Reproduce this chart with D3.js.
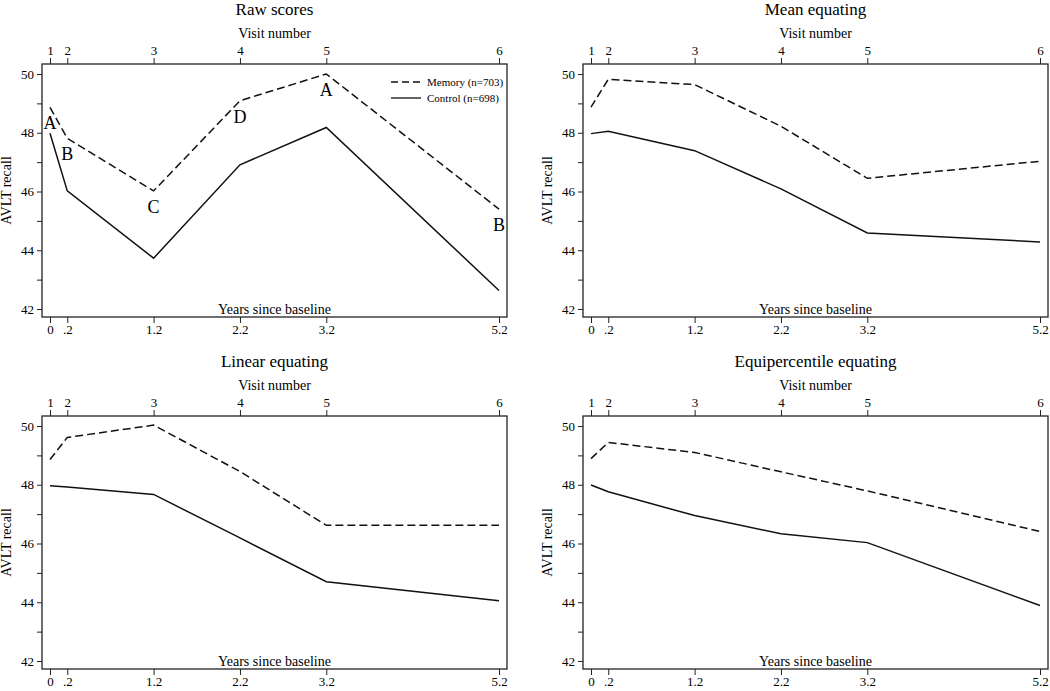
<!DOCTYPE html>
<html>
<head>
<meta charset="utf-8">
<script src="https://cdn.jsdelivr.net/npm/d3@7"></script>
<style>
  body { margin: 0; background: #fff; }
  svg text { font-family: 'Liberation Serif', 'Times New Roman', serif; fill: #000; }
</style>
</head>
<body>
<div id="chart"></div>
<script>
// time points and labels
const years = [0, 0.2, 1.2, 2.2, 3.2, 5.2];
const yearLabels = ['0', '.2', '1.2', '2.2', '3.2', '5.2'];
const visitLabels = ['1', '2', '3', '4', '5', '6'];
const yTicks = [42, 44, 46, 48, 50];
const yMinor = [43, 45, 47, 49];

const panelTitles = ['Raw scores', 'Mean equating', 'Linear equating', 'Equipercentile equating'];

// AVLT recall
const rawMemory = [48.86, 47.81, 46.02, 49.09, 50.0, 45.4];
const rawControl = [47.98, 46.02, 43.73, 46.91, 48.18, 42.63];
const meanMemory = [48.87, 49.82, 49.64, 48.22, 46.45, 47.03];
const meanControl = [47.97, 48.05, 47.39, 46.09, 44.59, 44.28];
const linearMemory = [48.86, 49.61, 50.03, 48.45, 46.62, 46.62];
const linearControl = [47.97, 47.92, 47.67, 46.19, 44.70, 44.05];
const equiMemory = [48.89, 49.44, 49.10, 48.44, 47.79, 46.41];
const equiControl = [47.99, 47.76, 46.95, 46.33, 46.03, 43.89];

// letters on the raw memory points
const rawPointLabels = ['A', 'B', 'C', 'D', 'A', 'B'];

const legendLabels = ['Memory (n=703)', 'Control (n=698)'];

const width = 1050;
const height = 691;

const svg = d3.select('#chart')
  .append('svg')
  .attr('width', width)
  .attr('height', height);

const panels = [
  { title: panelTitles[0], memory: rawMemory, control: rawControl, left: 42, top: 64, labels: rawPointLabels, legend: true },
  { title: panelTitles[1], memory: meanMemory, control: meanControl, left: 583, top: 64 },
  { title: panelTitles[2], memory: linearMemory, control: linearControl, left: 42, top: 416 },
  { title: panelTitles[3], memory: equiMemory, control: equiControl, left: 583, top: 416 },
];

const frameW = 465;
const frameH = 253;

panels.forEach((p) => drawPanel(p));

function drawPanel(p) {
  const g = svg.append('g');
  const bottom = p.top + frameH;
  const cx = p.left + frameW / 2;

  const x = d3.scaleLinear().domain([0, 5.2]).range([p.left + 8, p.left + 457]);
  const y = d3.scaleLinear().domain([42, 50]).range([p.top + 245, p.top + 10]);

  // frame
  g.append('rect')
    .attr('x', p.left)
    .attr('y', p.top)
    .attr('width', frameW)
    .attr('height', frameH)
    .attr('fill', 'none')
    .attr('stroke', '#222')
    .attr('stroke-width', 1.3);

  // y axis, major + minor
  const yAxis = g.append('g')
    .attr('transform', `translate(${p.left},0)`)
    .call(d3.axisLeft(y).tickValues(yTicks).tickSize(5).tickPadding(3).tickFormat(d3.format('d')));
  g.append('g')
    .attr('transform', `translate(${p.left},0)`)
    .call(d3.axisLeft(y).tickValues(yMinor).tickSize(5).tickFormat(''));

  // bottom: years since baseline
  const xAxis = g.append('g')
    .attr('transform', `translate(0,${bottom})`)
    .call(d3.axisBottom(x).tickValues(years).tickSize(6).tickPadding(2).tickFormat((d, i) => yearLabels[i]));

  // top: visit number
  const topAxis = g.append('g')
    .attr('transform', `translate(0,${p.top})`)
    .call(d3.axisTop(x).tickValues(years).tickSize(6).tickPadding(3).tickFormat((d, i) => visitLabels[i]));

  [yAxis, xAxis, topAxis].forEach((a) => a.selectAll('text').attr('font-size', 13).attr('font-family', null));
  g.selectAll('.domain').remove();
  g.selectAll('.tick line').attr('stroke', '#222');

  // titles
  g.append('text')
    .attr('x', cx)
    .attr('y', p.top - 49)
    .attr('text-anchor', 'middle')
    .attr('font-size', 17)
    .text(p.title);

  g.append('text')
    .attr('x', cx)
    .attr('y', p.top - 26)
    .attr('text-anchor', 'middle')
    .attr('font-size', 14)
    .text('Visit number');

  g.append('text')
    .attr('x', cx)
    .attr('y', bottom - 3)
    .attr('text-anchor', 'middle')
    .attr('font-size', 14)
    .text('Years since baseline');

  g.append('text')
    .attr('transform', `translate(${p.left - 31},${p.top + frameH / 2}) rotate(-90)`)
    .attr('text-anchor', 'middle')
    .attr('font-size', 14)
    .text('AVLT recall');

  const line = d3.line()
    .x((d, i) => x(years[i]))
    .y((d) => y(d));

  g.append('path')
    .datum(p.memory)
    .attr('d', line)
    .attr('fill', 'none')
    .attr('stroke', '#111')
    .attr('stroke-width', 1.5)
    .attr('stroke-dasharray', '8 4');

  g.append('path')
    .datum(p.control)
    .attr('d', line)
    .attr('fill', 'none')
    .attr('stroke', '#111')
    .attr('stroke-width', 1.5);

  // marker labels below memory points
  if (p.labels) {
    g.selectAll('.pt-label')
      .data(p.memory)
      .enter()
      .append('text')
      .attr('class', 'pt-label')
      .attr('x', (d, i) => x(years[i]))
      .attr('y', (d) => y(d) + 22)
      .attr('text-anchor', 'middle')
      .attr('font-size', 18)
      .text((d, i) => p.labels[i]);
  }

  if (p.legend) {
    const lg = g.append('g').attr('transform', `translate(${p.left + 349},${p.top + 18})`);
    legendLabels.forEach((lab, i) => {
      lg.append('line')
        .attr('x1', 0)
        .attr('x2', 30)
        .attr('y1', i * 16)
        .attr('y2', i * 16)
        .attr('stroke', '#111')
        .attr('stroke-width', 1.3)
        .attr('stroke-dasharray', i === 0 ? '7 4' : null);
      lg.append('text')
        .attr('x', 36)
        .attr('y', i * 16 + 4)
        .attr('font-size', 11)
        .text(lab);
    });
  }
}
</script>
</body>
</html>
